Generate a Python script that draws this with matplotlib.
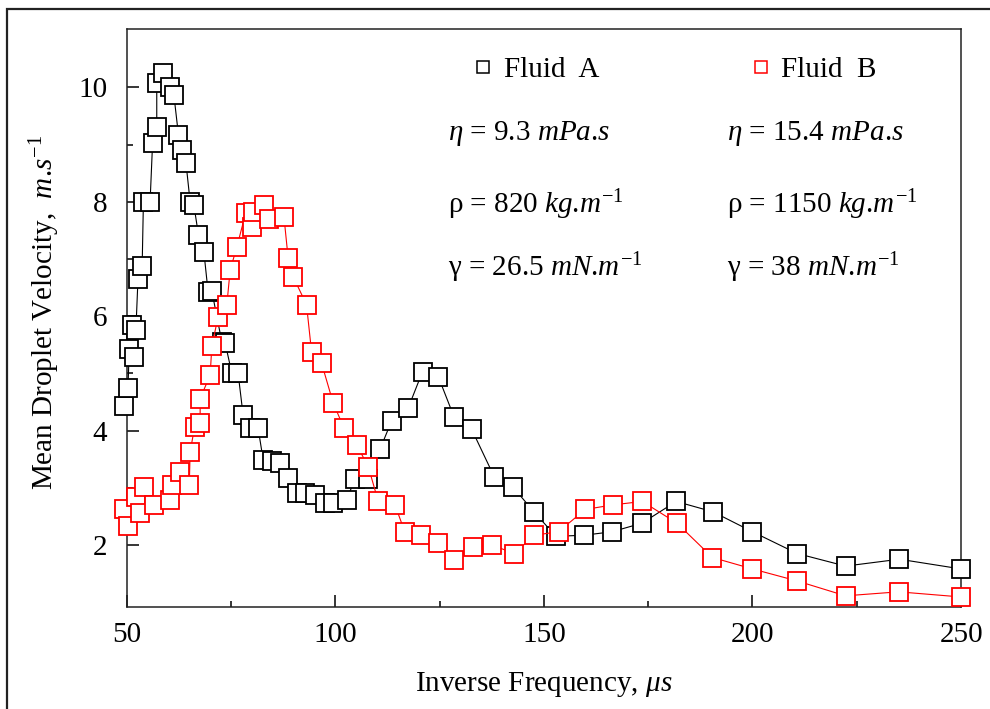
import matplotlib
matplotlib.use("Agg")
import matplotlib.pyplot as plt
from matplotlib.lines import Line2D
from matplotlib.patches import Rectangle

# Fluid A (black squares)
fluid_a_x = [49.3, 50.3, 50.6, 51.3, 51.8, 52.2, 52.7, 53.7, 54.0, 55.6,
             56.2, 57.2, 57.2, 58.8, 60.4, 61.3, 62.4, 63.2, 64.2, 65.2,
             66.1, 67.2, 68.5, 69.5, 70.4, 72.8, 73.6, 75.2, 76.7, 77.9,
             79.5, 81.5, 82.7, 84.8, 86.7, 88.7, 90.7, 92.7, 95.1, 97.5,
             99.5, 102.7, 104.7, 107.9, 110.7, 113.5, 117.5, 120.9, 124.7, 128.5,
             132.7, 138.1, 142.5, 147.7, 152.9, 159.7, 166.3, 173.5, 181.7, 190.5,
             200.0, 210.7, 222.3, 235.2, 250.0]
fluid_a_y = [4.43, 4.74, 5.42, 5.85, 5.29, 5.76, 6.65, 6.87, 8.00, 8.00,
             9.03, 9.31, 10.07, 10.25, 10.01, 9.87, 9.17, 8.90, 8.68, 8.00,
             7.94, 7.42, 7.12, 6.43, 6.44, 5.55, 5.53, 5.00, 5.00, 4.27,
             4.04, 4.04, 3.49, 3.46, 3.43, 3.17, 2.90, 2.90, 2.87, 2.73,
             2.73, 2.79, 3.15, 3.15, 3.67, 4.17, 4.40, 5.03, 4.94, 4.23,
             4.02, 3.19, 3.02, 2.57, 2.15, 2.17, 2.23, 2.38, 2.76, 2.58,
             2.23, 1.85, 1.63, 1.75, 1.58]

# Fluid B (red squares)
fluid_b_x = [49.3, 50.3, 52.2, 53.2, 54.2, 56.5, 60.4, 60.8, 62.8, 65.0,
             65.2, 66.3, 67.6, 67.6, 70.0, 70.4, 71.9, 74.0, 74.8, 76.4,
             78.5, 80.0, 80.3, 82.8, 84.0, 87.7, 88.7, 89.9, 93.1, 94.3,
             96.7, 99.5, 102.1, 105.1, 107.9, 110.3, 114.3, 116.7, 120.5, 124.7,
             128.5, 132.9, 137.5, 142.9, 147.7, 153.5, 159.9, 166.5, 173.6, 181.9,
             190.4, 200.0, 210.7, 222.3, 235.0, 250.0]
fluid_b_y = [2.62, 2.33, 2.83, 2.55, 3.01, 2.70, 2.79, 3.05, 3.28, 3.05,
             3.63, 4.07, 4.13, 4.56, 4.97, 5.47, 5.99, 6.20, 6.81, 7.21,
             7.80, 7.56, 7.82, 7.94, 7.70, 7.73, 7.01, 6.69, 6.20, 5.38,
             5.18, 4.48, 4.04, 3.75, 3.37, 2.76, 2.70, 2.22, 2.17, 2.03,
             1.74, 1.96, 2.00, 1.85, 2.17, 2.23, 2.62, 2.70, 2.76, 2.38,
             1.78, 1.58, 1.37, 1.11, 1.18, 1.09]

x_major = [50, 100, 150, 200, 250]
x_minor = [75, 125, 175, 225]
y_major = [2, 4, 6, 8, 10]
y_minor = [3, 5, 7, 9]

# fluid properties, dots kept outside math mode so no extra space follows them
props_a = ["$\\eta$ = 9.3 $\\mathit{mPa}$.$\\mathit{s}$",
           "\u03c1 = 820 $\\mathit{kg}$.$\\mathit{m}^{-1}$",
           "\u03b3 = 26.5 $\\mathit{mN}$.$\\mathit{m}^{-1}$"]
props_b = ["$\\eta$ = 15.4 $\\mathit{mPa}$.$\\mathit{s}$",
           "\u03c1 = 1150 $\\mathit{kg}$.$\\mathit{m}^{-1}$",
           "\u03b3 = 38 $\\mathit{mN}$.$\\mathit{m}^{-1}$"]

plt.rcParams["font.family"] = ["Liberation Serif", "DejaVu Serif"]
plt.rcParams["mathtext.fontset"] = "custom"
plt.rcParams["mathtext.rm"] = "Liberation Serif"
plt.rcParams["mathtext.it"] = "Liberation Serif:italic"

FS = 21

fig = plt.figure(figsize=(9.9, 7.09), dpi=100)
ax = fig.add_axes([0.128, 0.1443, 0.8428, 0.8147])

# outer frame of the picture
fig.add_artist(Rectangle((7 / 990, -0.05), 1.2, 1.05 - 9 / 709,
                         transform=fig.transFigure, fill=False,
                         lw=1.6, ec="#222222"))

ax.plot(fluid_a_x, fluid_a_y, color="black", lw=0.8, marker="s", ms=12.5,
        mfc="white", mec="black", mew=1.3, clip_on=False, zorder=3)
ax.plot(fluid_b_x, fluid_b_y, color="red", lw=0.8, marker="s", ms=12.5,
        mfc="white", mec="red", mew=1.3, clip_on=False, zorder=4)

ax.set_xlim(50, 250)
ax.set_ylim(0.92, 11.02)
ax.set_xticks(x_major)
ax.set_xticks(x_minor, minor=True)
ax.set_yticks(y_major)
ax.set_yticks(y_minor, minor=True)
ax.tick_params(which="major", direction="in", length=8.6, width=1.1,
               labelsize=FS, top=False, right=False)
ax.tick_params(which="minor", direction="in", length=4.3, width=1.1,
               top=False, right=False)
ax.tick_params(axis="x", pad=11)
ax.tick_params(axis="y", pad=14)
for s in ax.spines.values():
    s.set_linewidth(1.1)
    s.set_color("#222222")

ax.set_xlabel("Inverse Frequency, $\\mathit{\\mu s}$", fontsize=FS)
ax.set_ylabel("Mean Droplet Velocity,  $\\mathit{m}$.$\\mathit{s}^{-1}$",
              fontsize=FS)
ax.xaxis.set_label_coords(0.5, -0.134)
ax.yaxis.set_label_coords(-0.098, 0.51)
ax.xaxis.label.set_va("center")
ax.yaxis.label.set_va("center")

handles = [Line2D([], [], ls="none", marker="s", ms=9, mfc="white",
                  mec="black", mew=1.1),
           Line2D([], [], ls="none", marker="s", ms=9, mfc="white",
                  mec="red", mew=1.1)]
ax.legend(handles, ["Fluid  A", "Fluid  B"], ncol=2, frameon=False,
          loc="center left", bbox_to_anchor=(0.415, 0.929), fontsize=FS,
          borderpad=0, borderaxespad=0, handlelength=0.7,
          handletextpad=0.35, columnspacing=5.2)

for i, (ta, tb) in enumerate(zip(props_a, props_b)):
    ypos = [0.820, 0.695, 0.586][i]
    ax.text(0.385, ypos, ta, transform=ax.transAxes, fontsize=FS,
            ha="left", va="center")
    ax.text(0.720, ypos, tb, transform=ax.transAxes, fontsize=FS,
            ha="left", va="center")

fig.savefig("out.png", dpi=100)
